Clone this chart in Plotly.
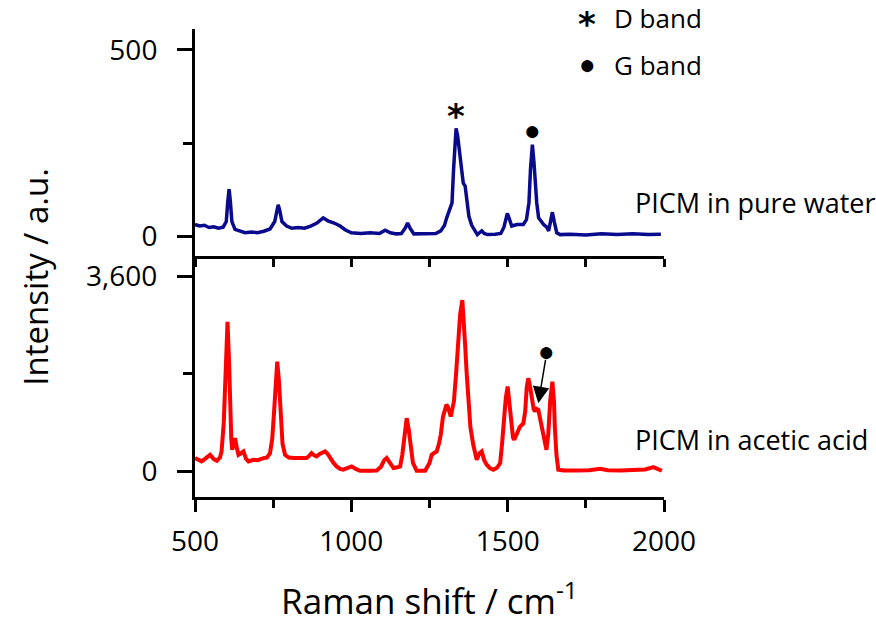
import plotly.graph_objects as go

# ---------------- data ----------------
wn_water = [500, 515, 530, 545, 560, 575, 590, 600, 605, 609, 613, 618, 628, 640, 660, 680, 700, 720, 740, 755,
            762, 766, 771, 778, 793, 810, 830, 850, 870, 890, 910, 925, 945, 964, 980, 1000, 1030, 1060, 1090, 1108,
            1125, 1144, 1160, 1172, 1180, 1188, 1200, 1240, 1270, 1286, 1298, 1305, 1315, 1322, 1327, 1331, 1335, 1340,
            1345, 1349, 1354, 1358, 1364, 1368, 1372, 1376, 1385, 1392, 1403, 1410, 1417, 1425, 1435, 1460, 1478, 1488,
            1494, 1499, 1505, 1513, 1530, 1550, 1560, 1568, 1573, 1579, 1584, 1588, 1593, 1599, 1607, 1615, 1625, 1631,
            1637, 1643, 1649, 1657, 1668, 1700, 1750, 1800, 1850, 1900, 1950, 1990]
int_water = [32, 28, 30, 24, 26, 22, 25, 40, 95, 127, 95, 40, 19, 15, 10, 12, 10, 14, 20, 40,
             75, 85, 70, 40, 28, 22, 24, 22, 28, 36, 50, 42, 36, 28, 18, 10, 8, 10, 8, 17,
             10, 7, 8, 22, 36, 22, 7, 7, 8, 15, 30, 50, 70, 90, 180, 260, 290, 270,
             235, 215, 160, 143, 135, 110, 75, 54, 30, 19, 5, 10, 15, 8, 5, 6, 8, 25,
             50, 62, 48, 28, 32, 32, 45, 90, 180, 246, 200, 150, 90, 50, 40, 32, 25, 15,
             40, 65, 40, 10, 5, 6, 4, 7, 5, 7, 5, 6]

wn_acid = [500, 510, 521, 535, 548, 560, 570, 580, 585, 592, 598, 604, 609, 612, 616, 619, 624, 628, 633, 639,
           647, 655, 663, 671, 687, 700, 719, 730, 740, 747, 753, 758, 763, 768, 774, 780, 788, 800, 814, 840,
           857, 865, 873, 881, 889, 900, 910, 916, 924, 932, 943, 953, 964, 974, 987, 1001, 1014, 1028, 1060, 1081,
           1095, 1105, 1113, 1122, 1135, 1148, 1156, 1163, 1170, 1177, 1184, 1190, 1197, 1209, 1236, 1250, 1257, 1266,
           1273, 1280, 1286, 1293, 1299, 1304, 1308, 1313, 1318, 1323, 1328, 1335, 1342, 1348, 1355, 1360, 1364, 1369,
           1374, 1381, 1390, 1396, 1401, 1410, 1417, 1425, 1433, 1444, 1454, 1466, 1476, 1482, 1488, 1494, 1500, 1506,
           1513, 1517, 1521, 1530, 1539, 1550, 1556, 1561, 1566, 1572, 1578, 1583, 1587, 1592, 1598, 1604, 1610, 1617,
           1624, 1630, 1636, 1643, 1648, 1651, 1656, 1662, 1680, 1720, 1760, 1796, 1820, 1860, 1900, 1940, 1966, 1980,
           1993]
int_acid = [240, 220, 179, 240, 301, 220, 191, 250, 363, 900, 2100, 2763, 2000, 1102, 600, 394, 550, 609, 450, 301,
            330, 363, 230, 179, 209, 200, 240, 250, 332, 600, 1102, 1700, 2025, 1700, 978, 500, 301, 250, 240, 230,
            240, 280, 332, 290, 271, 320, 340, 363, 320, 240, 150, 86, 40, 25, 50, 86, 40, 6, 6, 10,
            80, 200, 240, 150, 55, 70, 86, 300, 700, 978, 750, 400, 150, 6, 6, 150, 301, 340,
            363, 500, 671, 1000, 1163, 1224, 1200, 1060, 1009, 1150, 1286, 1800, 2332, 2900, 3163, 2800, 2332, 1800,
            1286, 800, 486, 300, 209, 330, 363, 200, 117, 50, 25, 60, 148, 500, 978, 1350, 1563, 1250,
            794, 620, 578, 700, 818, 880, 1100, 1550, 1717, 1550, 1317, 1150, 1102, 1150, 1132, 950, 733, 520,
            394, 700, 1300, 1655, 1300, 794, 300, 25, 10, 8, 15, 43, 15, 12, 15, 30, 74, 30,
            6]

x_range = [500, 2000]
x_major = [500, 1000, 1500, 2000]
top_range = [-51, 556]
top_major = [0, 500]
bot_range = [-480, 3988]
bot_major = [0, 3600]
bot_major_text = ["0", "3,600"]

FONT = "Open Sans"
BLACK = "#000000"

fig = go.Figure()
fig.add_trace(go.Scatter(x=wn_acid, y=int_acid, mode="lines", xaxis="x", yaxis="y",
                         line=dict(color="#FF0000", width=4), showlegend=False))
fig.add_trace(go.Scatter(x=wn_water, y=int_water, mode="lines", xaxis="x2", yaxis="y2",
                         line=dict(color="#0A0A8C", width=3.5), showlegend=False))

common_axis = dict(showline=True, linewidth=3, linecolor=BLACK, ticks="outside", tickwidth=3,
                   tickcolor=BLACK, showgrid=False, zeroline=False,
                   tickfont=dict(family=FONT, size=28, color=BLACK))

fig.update_layout(
    width=876, height=627,
    margin=dict(l=195, r=212, t=29, b=128),
    paper_bgcolor="white", plot_bgcolor="white",
    xaxis=dict(common_axis, domain=[0, 1], range=x_range, anchor="y", tickvals=x_major, ticklen=12,
               minor=dict(ticks="outside", dtick=250, tick0=500, ticklen=8, tickwidth=3, tickcolor=BLACK),
               ticklabelstandoff=5,
               title=dict(text="Raman shift / cm<sup>-1</sup>", font=dict(family=FONT, size=35, color=BLACK),
                          standoff=32)),
    yaxis=dict(common_axis, domain=[0, 0.516], range=bot_range, anchor="x", tickvals=bot_major,
               ticktext=bot_major_text, ticklen=15, ticklabelstandoff=14,
               minor=dict(ticks="outside", dtick=1800, tick0=0, ticklen=9, tickwidth=3, tickcolor=BLACK)),
    xaxis2=dict(common_axis, domain=[0, 1], range=x_range, anchor="y2", matches="x", showticklabels=False,
                tickvals=x_major, ticklen=8,
                minor=dict(ticks="outside", dtick=250, tick0=500, ticklen=8, tickwidth=3, tickcolor=BLACK)),
    yaxis2=dict(common_axis, domain=[0.516, 1], range=top_range, anchor="x2", tickvals=top_major,
                ticklen=15, ticklabelstandoff=14,
                minor=dict(ticks="outside", dtick=250, tick0=0, ticklen=9, tickwidth=3, tickcolor=BLACK)),
)

def txt(s, size, family=FONT):
    return dict(text=s, showarrow=False, font=dict(family=family, size=size, color=BLACK))

STAR_FONT = "DejaVu Sans"
ann = []
ann.append(dict(txt("Intensity / a.u.", 33), xref="paper", yref="paper", x=-0.342, y=0.47,
                textangle=-90, xanchor="center", yanchor="middle"))
ann.append(dict(txt("PICM in pure water", 27), xref="paper", yref="paper", x=0.934, y=0.630,
                xanchor="left", yanchor="middle"))
ann.append(dict(txt("PICM in acetic acid", 27), xref="paper", yref="paper", x=0.934, y=0.123,
                xanchor="left", yanchor="middle"))
ann.append(dict(txt("D band", 26), xref="paper", yref="paper", x=0.889, y=1.023, xanchor="left", yanchor="middle"))
ann.append(dict(txt("G band", 26), xref="paper", yref="paper", x=0.889, y=0.923, xanchor="left", yanchor="middle"))
ann.append(dict(txt("<b>*</b>", 34, STAR_FONT), xref="paper", yref="paper", x=0.836, y=1.023,
                xanchor="center", yanchor="middle", yshift=-6))
ann.append(dict(txt("●", 28), xref="paper", yref="paper", x=0.836, y=0.928, xanchor="center", yanchor="middle"))
ann.append(dict(txt("<b>*</b>", 34, STAR_FONT), xref="x2", yref="y2", x=1335, y=340,
                xanchor="center", yanchor="middle", yshift=-6))
ann.append(dict(txt("●", 28), xref="x2", yref="y2", x=1578, y=289, xanchor="center", yanchor="middle"))
ann.append(dict(txt("●", 28), xref="x", yref="y", x=1625, y=2239, xanchor="center", yanchor="middle"))
ann.append(dict(x=1598, y=1255, ax=1622, ay=2086, xref="x", yref="y", axref="x", ayref="y", text="",
                showarrow=True, arrowhead=2, arrowsize=2.2, arrowwidth=1.5, arrowcolor=BLACK))

fig.update_layout(annotations=ann)
fig.write_html("out.html")
